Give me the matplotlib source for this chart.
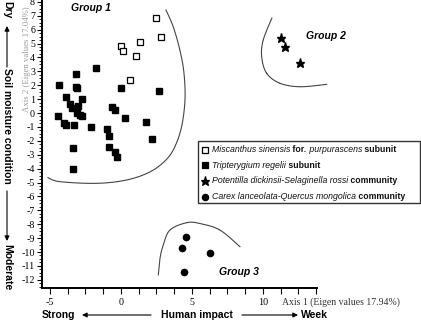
import numpy as np
import matplotlib
matplotlib.use("Agg")
import matplotlib.pyplot as plt
from matplotlib.ticker import MultipleLocator, FixedLocator
from matplotlib.patches import Rectangle

plt.rcParams['axes.unicode_minus'] = False

# Miscanthus sinensis for. purpurascens subunit (open squares)
misc_x = [2.44, 2.84, 0.00, 0.12, 1.36, 1.08, 0.65]
misc_y = [6.81, 5.49, 4.84, 4.46, 5.10, 4.08, 2.37]

# Tripterygium regelii subunit (filled squares)
trip_x = [-4.37, -3.15, -1.74, -3.15, -3.10, -3.87, -2.75, -3.61, -3.43, -3.05,
          -3.12, -2.89, -2.75, -4.42, -4.01, -3.89, -3.33, -2.08, -0.99, -0.87,
          -0.87, -0.44, -0.30, 0.00, -0.65, -0.42, 0.30, 1.78, 2.68, 2.16,
          -3.40, -3.40]
trip_y = [2.01, 2.81, 3.24, 1.89, 1.81, 1.17, 1.03, 0.62, 0.38, 0.50,
          0.00, -0.12, -0.19, -0.22, -0.70, -0.89, -0.89, -1.01, -1.15, -1.68,
          -2.42, -2.83, -3.17, 1.77, 0.45, 0.19, -0.34, -0.63, 1.55, -1.89,
          -2.52, -4.03]

# Potentilla dickinsii-Selaginella rossi community (stars)
pot_x = [11.25, 11.55, 12.61]
pot_y = [5.37, 4.77, 3.58]

# Carex lanceolata-Quercus mongolica community (circles)
car_x = [4.58, 4.32, 6.25, 4.44]
car_y = [-8.94, -9.73, -10.09, -11.44]

# hand drawn group outlines
g1_x = [3.17, 3.68, 4.15, 4.44, 4.51, 4.27, 3.80, 3.17, 2.04, 0.40, -1.71, -4.30, -5.14]
g1_y = [7.41, 6.21, 4.53, 2.86, 0.94, -0.99, -2.42, -3.38, -4.24, -4.82, -5.06, -4.94, -4.65]
g2_x = [10.63, 10.02, 9.91, 10.26, 11.20, 12.61, 14.49]
g2_y = [6.83, 5.25, 4.05, 2.86, 2.14, 1.89, 2.06]
g3_x = [2.63, 2.75, 2.98, 3.45, 4.63, 5.56, 6.97, 8.38]
g3_y = [-11.65, -10.45, -9.50, -8.42, -7.89, -7.95, -8.42, -9.62]


def smooth(xs, ys, n=20):
    p = np.column_stack([xs, ys])
    p = np.vstack([p[0], p, p[-1]])
    out = []
    for i in range(1, len(p) - 2):
        p0, p1, p2, p3 = p[i - 1], p[i], p[i + 1], p[i + 2]
        t = np.linspace(0, 1, n)[:, None]
        seg = 0.5 * ((2 * p1) + (-p0 + p2) * t + (2 * p0 - 5 * p1 + 4 * p2 - p3) * t ** 2
                     + (-p0 + 3 * p1 - 3 * p2 + p3) * t ** 3)
        out.append(seg)
    out = np.vstack(out)
    return out[:, 0], out[:, 1]


fig = plt.figure(figsize=(4.21, 3.2), dpi=100)
ax = fig.add_axes([42 / 421, 32 / 320, 379 / 421, 288 / 320])
ax.set_xlim(-5.56, 21.13)
ax.set_ylim(-12.59, 8.13)

for gx, gy in [(g1_x, g1_y), (g2_x, g2_y), (g3_x, g3_y)]:
    sx, sy = smooth(gx, gy)
    ax.plot(sx, sy, color='#444444', lw=0.8, clip_on=False)

ax.plot(misc_x, misc_y, 's', ms=4.4, mfc='white', mec='black', mew=0.9, ls='none', clip_on=False)
ax.plot(trip_x, trip_y, 's', ms=4.2, color='black', ls='none')
ax.plot(pot_x, pot_y, '*', ms=6.5, color='black', ls='none')
ax.plot(car_x, car_y, 'o', ms=4.5, color='black', ls='none')

gfont = dict(family='Liberation Sans', weight='bold', style='italic', fontsize=7.5)
ax.text(-2.11, 7.55, 'Group 1', ha='center', va='center', **gfont)
ax.text(14.47, 5.54, 'Group 2', ha='center', va='center', **gfont)
ax.text(8.31, -11.42, 'Group 3', ha='center', va='center', **gfont)

# axes styling
for s in ['top', 'right']:
    ax.spines[s].set_visible(False)
ax.spines['left'].set_linewidth(1.4)
ax.spines['bottom'].set_linewidth(1.4)
ax.spines['bottom'].set_bounds(-5.56, 13.8)
ax.xaxis.set_major_locator(FixedLocator([-5, 0, 5, 10]))
ax.xaxis.set_minor_locator(FixedLocator([-5 + 1.25 * i for i in range(16)]))
ax.yaxis.set_major_locator(MultipleLocator(1))
ax.yaxis.set_minor_locator(MultipleLocator(0.25))
ax.tick_params(axis='x', which='both', direction='out', length=4, width=0.8, pad=3)
ax.tick_params(axis='y', which='major', direction='out', length=3.5, width=0.8, pad=1.5)
ax.tick_params(axis='y', which='minor', direction='out', length=2, width=0.6)
ax.set_yticks(range(-12, 9))
for lab in ax.get_xticklabels() + ax.get_yticklabels():
    lab.set_family('Liberation Serif')
    lab.set_fontsize(7.2)

fig.text(282 / 421, 1 - 302 / 320, 'Axis 1 (Eigen values 17.94%)', family='Liberation Serif',
         fontsize=7, color='#333333', ha='left', va='center')
fig.text(27 / 421, 1 - 59 / 320, 'Axis 2 (Eigen values 17.04%)', family='Liberation Serif',
         fontsize=6.3, color='#999999', rotation=90, ha='center', va='center')

# legend box drawn by hand so the label can mix italic and bold
fig.patches.append(Rectangle((198 / 421, 1 - 203 / 320), 222 / 421, 62 / 320,
                             transform=fig.transFigure, fill=False, ec='#333333', lw=1.0))
leg_items = [
    ('s', 'white', 4.4, [('Miscanthus sinensis', 'italic', 'normal'), (' for.', 'normal', 'bold'),
                         (' purpurascens', 'italic', 'normal'), (' subunit', 'normal', 'bold')]),
    ('s', 'black', 4.2, [('Tripterygium regelii', 'italic', 'normal'), (' subunit', 'normal', 'bold')]),
    ('*', 'black', 6.5, [('Potentilla dickinsii-Selaginella rossi', 'italic', 'normal'),
                         (' community', 'normal', 'bold')]),
    ('o', 'black', 4.5, [('Carex lanceolata-Quercus mongolica', 'italic', 'normal'),
                         (' community', 'normal', 'bold')]),
]
leg_rows = [149.7, 165, 180.5, 196.5]
for (mk, fc, ms, parts), ypix in zip(leg_items, leg_rows):
    fig.add_artist(plt.Line2D([204.5 / 421], [1 - ypix / 320], marker=mk, ms=ms, mfc=fc,
                              mec='black', mew=0.9, ls='none', transform=fig.transFigure))
    t = None
    for s, st, wt in parts:
        kw = dict(family='Liberation Sans', style=st, weight=wt, fontsize=6.3, color='#111111')
        if t is None:
            t = ax.annotate(s, xy=(212, 320 - ypix), xycoords='figure pixels', va='center', ha='left', **kw)
        else:
            t = ax.annotate(s, xy=(1, 0), xycoords=t, va='bottom', ha='left', **kw)

# outer axis descriptors
bfont = dict(family='Liberation Sans', weight='bold', fontsize=7.5)
fig.text(58 / 421, 1 - 315 / 320, 'Strong', ha='center', va='center', **bfont)
fig.text(197 / 421, 1 - 315 / 320, 'Human impact', ha='center', va='center', **bfont)
fig.text(314 / 421, 1 - 315 / 320, 'Week', ha='center', va='center', **bfont)
arr = dict(arrowstyle='-|>', lw=0.8, color='black', mutation_scale=7, shrinkA=0, shrinkB=0)
ax.annotate('', xy=(82, 320 - 315), xytext=(151, 320 - 315), xycoords='figure pixels', arrowprops=arr)
ax.annotate('', xy=(298, 320 - 315), xytext=(242, 320 - 315), xycoords='figure pixels', arrowprops=arr)

fig.text(7 / 421, 1 - 10 / 320, 'Dry', rotation=270, ha='center', va='center', **bfont)
fig.text(7 / 421, 1 - 126 / 320, 'Soil moisture condition', rotation=270, ha='center', va='center', **bfont)
fig.text(7 / 421, 1 - 267 / 320, 'Moderate', rotation=270, ha='center', va='center', **bfont)
ax.annotate('', xy=(7, 320 - 26), xytext=(7, 320 - 67), xycoords='figure pixels', arrowprops=arr)
ax.annotate('', xy=(7, 320 - 241), xytext=(7, 320 - 191), xycoords='figure pixels', arrowprops=arr)

fig.savefig('out.png', dpi=100)
